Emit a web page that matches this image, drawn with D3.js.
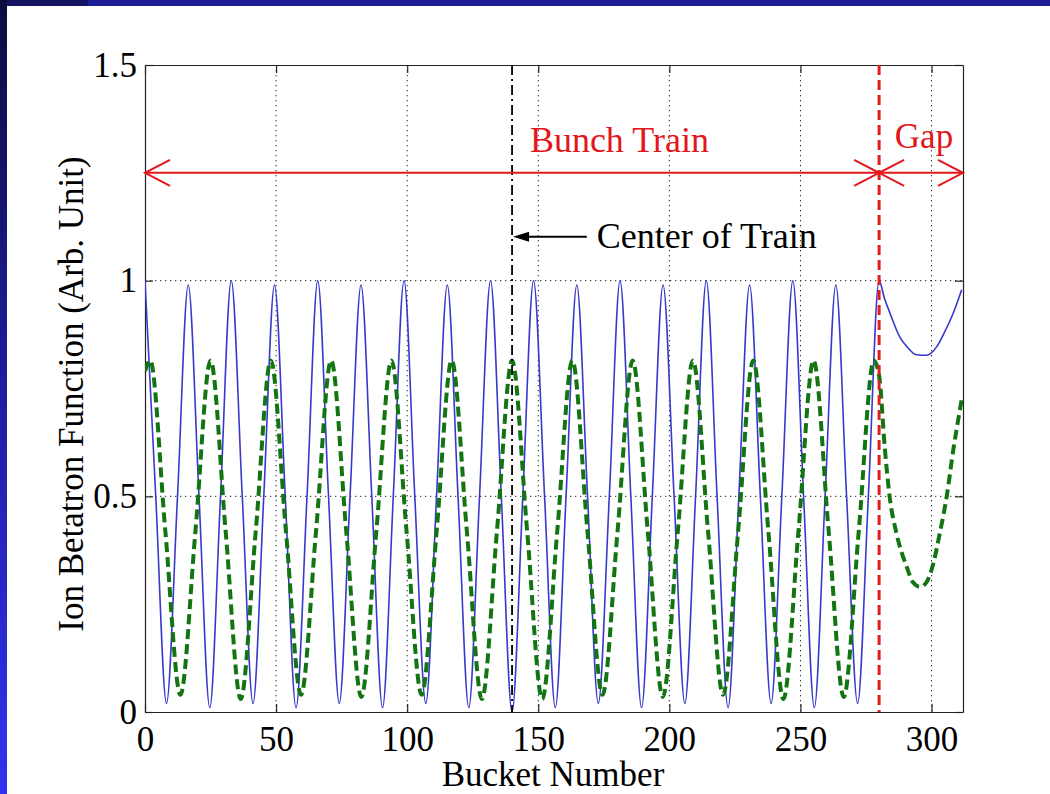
<!DOCTYPE html>
<html>
<head>
<meta charset="utf-8">
<script src="https://cdn.jsdelivr.net/npm/d3@7"></script>
<style>
  html, body { margin: 0; padding: 0; background: #ffffff; }
  svg { display: block; }
  text { font-family: "Liberation Serif", "Times New Roman", serif; }
</style>
</head>
<body>
<script>
// ---------- data ----------
const xTicks = [0, 50, 100, 150, 200, 250, 300];
const yTicks = [0, 0.5, 1, 1.5];
const xLabel = "Bucket Number";
const yLabel = "Ion Betatron Function (Arb. Unit)";

// blue solid curve: peaks, half-way points and troughs
const blueX = [0, 4.1, 8.2, 12.4, 16.5, 20.6, 24.7, 28.8, 32.9, 37.1, 41.2, 45.3, 49.4, 53.5, 57.6, 61.8,
  65.9, 70.0, 74.1, 78.2, 82.4, 86.5, 90.6, 94.7, 98.8, 102.9, 107.1, 111.2, 115.3, 119.4, 123.5, 127.6,
  131.8, 135.9, 140, 144.1, 148.2, 152.4, 156.5, 160.6, 164.7, 168.8, 172.9, 177.1, 181.2, 185.3, 189.4, 193.5,
  197.6, 201.8, 205.9, 210.0, 214.1, 218.2, 222.4, 226.5, 230.6, 234.7, 238.8, 242.9, 247.1, 251.2, 255.3, 259.4,
  263.5, 267.6, 271.8, 275.9, 280,
  282, 284, 288, 290.5, 294, 298, 302, 304.5, 308.3, 311.5];
const blueY = [1.0, 0.5, 0.02, 0.5, 0.99, 0.5, 0.01, 0.5, 1.0, 0.5, 0.02, 0.5, 0.99, 0.5, 0.01, 0.5,
  1.0, 0.5, 0.02, 0.5, 0.99, 0.5, 0.01, 0.5, 1.0, 0.5, 0.02, 0.5, 0.99, 0.5, 0.01, 0.5,
  1.0, 0.5, 0.0, 0.5, 1.0, 0.5, 0.01, 0.5, 0.99, 0.5, 0.02, 0.5, 1.0, 0.5, 0.01, 0.5,
  0.99, 0.5, 0.02, 0.5, 1.0, 0.5, 0.01, 0.5, 0.99, 0.5, 0.02, 0.5, 1.0, 0.5, 0.01, 0.5,
  0.99, 0.5, 0.02, 0.5, 1.0,
  0.96, 0.927, 0.868, 0.848, 0.829, 0.827, 0.847, 0.875, 0.925, 0.979];

// green dashed curve
const greenX = [0, 2, 7.75, 13.5, 19.25, 25, 30.75, 36.5, 42.25, 48, 53.75, 59.5, 65.25, 71, 76.75, 82.5,
  88.25, 94, 99.75, 105.5, 111.25, 117, 122.75, 128.5, 134.25, 140, 145.75, 151.5, 157.25, 163, 168.75, 174.5,
  180.25, 186, 191.75, 197.5, 203.25, 209, 214.75, 220.5, 226.25, 232, 237.75, 243.5, 249.25, 255, 260.75, 266.5,
  272.25, 278,
  280, 282.2, 284, 286.6, 290.5, 293, 295.6, 298, 300.7, 303, 305.8, 308.3, 310.8, 311.5];
const greenY = [0.79, 0.815, 0.42, 0.04, 0.42, 0.815, 0.42, 0.03, 0.42, 0.815, 0.42, 0.04, 0.42, 0.815, 0.42, 0.035,
  0.42, 0.815, 0.42, 0.04, 0.42, 0.815, 0.42, 0.03, 0.42, 0.815, 0.42, 0.03, 0.42, 0.815, 0.42, 0.04,
  0.42, 0.815, 0.42, 0.035, 0.42, 0.815, 0.42, 0.04, 0.42, 0.815, 0.42, 0.03, 0.42, 0.815, 0.42, 0.035,
  0.42, 0.815,
  0.78, 0.61, 0.5, 0.415, 0.337, 0.30, 0.29, 0.30, 0.345, 0.41, 0.5, 0.608, 0.70, 0.725];

// annotations
const trainCenter = 140;
const trainEnd = 280;
const arrowLevel = 1.25;
const bunchLabel = "Bunch Train";
const gapLabel = "Gap";
const centerLabel = "Center of Train";

// ---------- layout ----------
const W = 1050, H = 794;
const M = { left: 145, top: 65, right: 1050 - 963, bottom: 794 - 712 };
const iw = W - M.left - M.right, ih = H - M.top - M.bottom;

const svg = d3.select("body").append("svg").attr("width", W).attr("height", H);

// slide decoration
const defs = svg.append("defs");
const lg = defs.append("linearGradient").attr("id", "leftgrad").attr("x1", 0).attr("y1", 0).attr("x2", 0).attr("y2", 1);
lg.append("stop").attr("offset", "0%").attr("stop-color", "#0c0c3c");
lg.append("stop").attr("offset", "45%").attr("stop-color", "#1c1c98");
lg.append("stop").attr("offset", "100%").attr("stop-color", "#3232f2");
svg.append("rect").attr("x", 0).attr("y", 0).attr("width", W).attr("height", 6).attr("fill", "#1d1d96");
svg.append("rect").attr("x", 0).attr("y", 0).attr("width", 88).attr("height", 6).attr("fill", "#141462");
svg.append("rect").attr("x", 0).attr("y", 0).attr("width", 7).attr("height", H).attr("fill", "url(#leftgrad)");

const g = svg.append("g").attr("transform", `translate(${M.left},${M.top})`);

const x = d3.scaleLinear().domain([0, 312]).range([0, iw]);
const y = d3.scaleLinear().domain([0, 1.5]).range([ih, 0]);

// grid (dotted)
const grid = g.append("g").attr("stroke", "#222").attr("stroke-width", 1).attr("stroke-dasharray", "1.3,3.7");
grid.selectAll("line.gx").data(xTicks.filter(d => d > 0)).join("line")
  .attr("x1", d => x(d)).attr("x2", d => x(d)).attr("y1", 0).attr("y2", ih);
grid.selectAll("line.gy").data(yTicks.filter(d => d > 0 && d < 1.5)).join("line")
  .attr("y1", d => y(d)).attr("y2", d => y(d)).attr("x1", 0).attr("x2", iw);

// axes
const fmt = d3.format("");
const axB = g.append("g").attr("transform", `translate(0,${ih})`)
  .call(d3.axisBottom(x).tickValues(xTicks).tickFormat(fmt).tickSizeInner(-8).tickSizeOuter(0).tickPadding(14));
const axL = g.append("g")
  .call(d3.axisLeft(y).tickValues(yTicks).tickFormat(fmt).tickSizeInner(-8).tickSizeOuter(0).tickPadding(8));
const axT = g.append("g")
  .call(d3.axisTop(x).tickValues(xTicks).tickFormat("").tickSizeInner(-8).tickSizeOuter(0));
const axR = g.append("g").attr("transform", `translate(${iw},0)`)
  .call(d3.axisRight(y).tickValues(yTicks).tickFormat("").tickSizeInner(-8).tickSizeOuter(0));
[axB, axL, axT, axR].forEach(a => {
  a.selectAll("path").attr("stroke", "#222").attr("stroke-width", 1.2);
  a.selectAll("line").attr("stroke", "#222").attr("stroke-width", 1.2);
  a.selectAll("text").attr("font-family", "Liberation Serif").attr("font-size", 35).attr("fill", "#000");
});

// curves
const clip = defs.append("clipPath").attr("id", "plotclip");
clip.append("rect").attr("x", 0).attr("y", 0).attr("width", iw).attr("height", ih);

const line = d3.line().x(d => x(d[0])).y(d => y(d[1])).curve(d3.curveMonotoneX);
const blue = blueX.map((v, i) => [v, blueY[i]]);
const green = greenX.map((v, i) => [v, greenY[i]]);

const plot = g.append("g").attr("clip-path", "url(#plotclip)");
plot.append("path").datum(blue).attr("d", line)
  .attr("fill", "none").attr("stroke", "#3838cc").attr("stroke-width", 1.6);
plot.append("path").datum(green).attr("d", line)
  .attr("fill", "none").attr("stroke", "#127512").attr("stroke-width", 4).attr("stroke-dasharray", "10,5");

// center of train line (dash-dot)
g.append("line").attr("x1", x(trainCenter)).attr("x2", x(trainCenter)).attr("y1", 0).attr("y2", ih)
  .attr("stroke", "#000").attr("stroke-width", 1.8).attr("stroke-dasharray", "10,4,2,4");
// end of train line (red dashed)
g.append("line").attr("x1", x(trainEnd)).attr("x2", x(trainEnd)).attr("y1", 0).attr("y2", ih)
  .attr("stroke", "#dd1f1f").attr("stroke-width", 3).attr("stroke-dasharray", "10,5");

// red double arrows
const red = "#e3161b";
const ya = y(arrowLevel);
g.append("line").attr("x1", x(0)).attr("x2", x(312)).attr("y1", ya).attr("y2", ya)
  .attr("stroke", red).attr("stroke-width", 2);
function chevron(tipX, dir) {
  const len = 25, half = 13;
  g.append("path")
    .attr("d", `M${tipX - dir * len},${ya - half} L${tipX},${ya} L${tipX - dir * len},${ya + half}`)
    .attr("fill", "none").attr("stroke", red).attr("stroke-width", 2);
}
chevron(x(0), -1);
chevron(x(trainEnd), 1);
chevron(x(trainEnd), -1);
chevron(x(312), 1);

g.append("text").attr("x", x(146.8)).attr("y", y(1.299)).text(bunchLabel)
  .attr("font-size", 36).attr("fill", red);
g.append("text").attr("x", x(286)).attr("y", y(1.308)).text(gapLabel)
  .attr("font-size", 35).attr("fill", red);

// center-of-train arrow
const yc = y(1.102);
g.append("line").attr("x1", x(168.5)).attr("x2", x(trainCenter) + 14).attr("y1", yc).attr("y2", yc)
  .attr("stroke", "#000").attr("stroke-width", 2);
g.append("path")
  .attr("d", `M${x(trainCenter) + 1},${yc} L${x(trainCenter) + 17},${yc - 5} L${x(trainCenter) + 17},${yc + 5} Z`)
  .attr("fill", "#000");
g.append("text").attr("x", x(172.3)).attr("y", y(1.075)).text(centerLabel)
  .attr("font-size", 36).attr("fill", "#000");

// axis labels
svg.append("text").attr("x", 553).attr("y", 786).attr("text-anchor", "middle")
  .attr("font-size", 35).attr("fill", "#000").text(xLabel);
svg.append("text").attr("transform", "translate(83,394) rotate(-90)").attr("text-anchor", "middle")
  .attr("font-size", 35).attr("fill", "#000").text(yLabel);
</script>
</body>
</html>
